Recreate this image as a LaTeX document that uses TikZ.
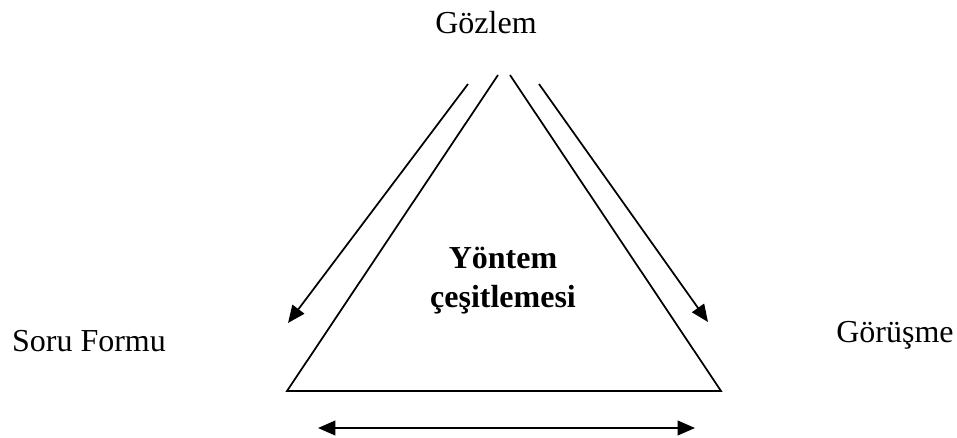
\documentclass[tikz,border=0pt]{standalone}
\usepackage{fontspec}
\setmainfont{Liberation Serif}
\usetikzlibrary{arrows.meta,calc}
\begin{document}
\begin{tikzpicture}[x=0.75pt,y=-0.75pt,
  lbl/.style={font=\fontsize{24}{29}\selectfont,anchor=base,inner sep=0pt},
  side/.style={line width=1.3pt,line join=miter},
  arr/.style={line width=1.3pt,-{Triangle[length=13pt,width=11pt]}},
  dblarr/.style={line width=1.3pt,{Triangle[length=13pt,width=11pt]}-{Triangle[length=13pt,width=11pt]}}]
  \useasboundingbox (0,0) rectangle (957,437);
  % labels
  \node[lbl] (gozlem) at (486,33) {Gözlem};
  \node[lbl] (soru) at (89,351) {Soru Formu};
  \node[lbl] (gorusme) at (895,342) {Görüşme};
  \node[lbl,font=\fontsize{24}{29}\selectfont\bfseries] (yontem) at (503,268) {Yöntem};
  \node[lbl,font=\fontsize{24}{29}\selectfont\bfseries] (cesit) at (503,307) {çeşitlemesi};
  % triangle, open at the top
  \coordinate (apexl) at (498,75);
  \coordinate (apexr) at (510,75);
  \coordinate (bl) at (287,391);
  \coordinate (br) at (721,391);
  \draw[side] (apexl) -- (bl) -- (br) -- (apexr);
  % arrows
  \coordinate (la0) at (468,84);
  \coordinate (la1) at (288,323);
  \coordinate (ra0) at (539,84);
  \coordinate (ra1) at (708,322);
  \coordinate (ba0) at (318,428);
  \coordinate (ba1) at (695,428);
  \draw[arr] (la0) -- (la1);
  \draw[arr] (ra0) -- (ra1);
  \draw[dblarr] (ba0) -- (ba1);
\end{tikzpicture}
\end{document}
